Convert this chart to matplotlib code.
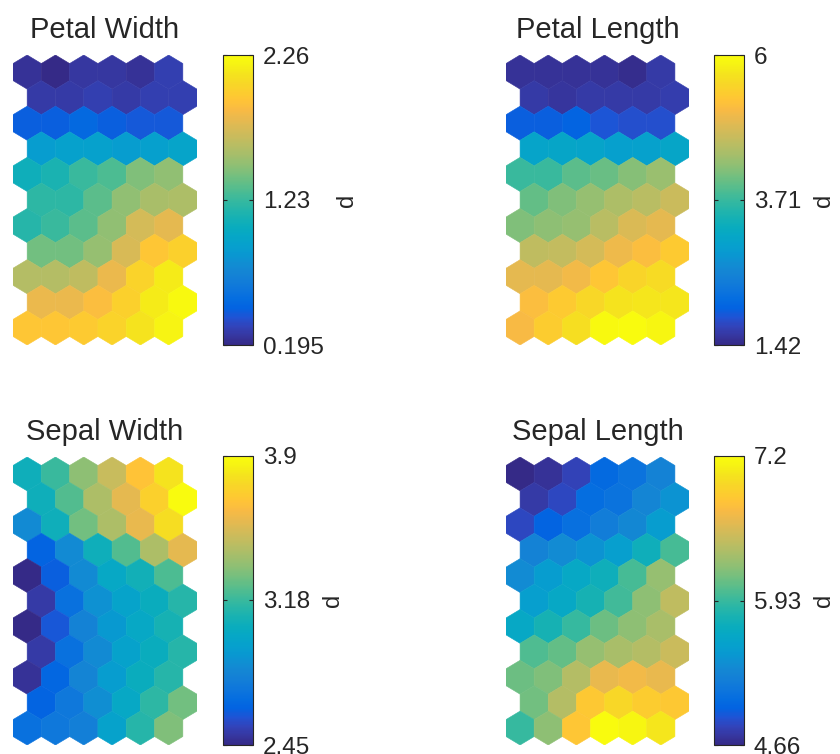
import numpy as np
import matplotlib
matplotlib.use('Agg')
import matplotlib.pyplot as plt
from matplotlib.collections import PolyCollection
from matplotlib.colors import LinearSegmentedColormap, Normalize
from matplotlib.cm import ScalarMappable

plt.rcParams['font.family'] = ['Liberation Sans', 'DejaVu Sans']

# --- SOM weight planes: 11 rows x 6 columns of hexagonal units ---
N_ROWS, N_COLS = 11, 6

titles = ['Petal Width', 'Petal Length', 'Sepal Width', 'Sepal Length']

petal_width = [
    [0.24, 0.20, 0.26, 0.26, 0.24, 0.30],
    [0.28, 0.28, 0.30, 0.28, 0.30, 0.30],
    [0.44, 0.44, 0.50, 0.44, 0.42, 0.42],
    [0.88, 0.92, 0.92, 0.88, 0.90, 0.94],
    [1.06, 1.12, 1.23, 1.29, 1.43, 1.48],
    [1.19, 1.19, 1.33, 1.48, 1.56, 1.58],
    [1.17, 1.23, 1.33, 1.48, 1.72, 1.79],
    [1.39, 1.39, 1.50, 1.74, 1.95, 2.01],
    [1.60, 1.60, 1.64, 1.81, 2.03, 2.16],
    [1.81, 1.81, 1.89, 2.01, 2.16, 2.24],
    [1.95, 1.95, 1.97, 2.03, 2.12, 2.20],
]

petal_length = [
    [1.51, 1.51, 1.51, 1.51, 1.47, 1.60],
    [1.60, 1.56, 1.60, 1.60, 1.60, 1.65],
    [1.97, 1.97, 2.02, 1.88, 1.83, 1.83],
    [3.07, 3.11, 3.07, 2.98, 3.02, 3.11],
    [3.71, 3.71, 3.94, 4.03, 4.21, 4.35],
    [3.98, 4.17, 4.31, 4.49, 4.58, 4.72],
    [4.17, 4.26, 4.31, 4.58, 4.86, 4.95],
    [4.63, 4.67, 4.81, 5.04, 5.18, 5.36],
    [4.95, 4.95, 5.08, 5.31, 5.50, 5.59],
    [5.18, 5.36, 5.54, 5.68, 5.73, 5.73],
    [5.13, 5.40, 5.63, 5.95, 6.00, 5.91],
]

sepal_width = [
    [3.06, 3.18, 3.35, 3.49, 3.67, 3.80],
    [3.06, 3.23, 3.42, 3.57, 3.73, 3.90],
    [2.84, 3.06, 3.29, 3.42, 3.58, 3.78],
    [2.64, 2.84, 3.06, 3.23, 3.42, 3.57],
    [2.45, 2.62, 2.84, 3.00, 3.07, 3.22],
    [2.51, 2.70, 2.87, 2.97, 3.04, 3.13],
    [2.45, 2.60, 2.80, 2.91, 3.00, 3.09],
    [2.51, 2.70, 2.84, 2.96, 3.04, 3.13],
    [2.48, 2.65, 2.81, 2.93, 3.04, 3.13],
    [2.64, 2.74, 2.86, 3.00, 3.15, 3.29],
    [2.70, 2.74, 2.78, 2.96, 3.13, 3.32],
]

sepal_length = [
    [4.66, 4.71, 4.81, 5.04, 5.12, 5.27],
    [4.76, 4.84, 5.07, 5.12, 5.30, 5.42],
    [4.84, 4.99, 5.09, 5.22, 5.32, 5.50],
    [5.27, 5.35, 5.42, 5.52, 5.73, 5.98],
    [5.35, 5.50, 5.63, 5.73, 5.98, 6.26],
    [5.52, 5.63, 5.78, 5.96, 6.23, 6.44],
    [5.63, 5.78, 5.93, 6.11, 6.23, 6.34],
    [6.01, 6.08, 6.26, 6.34, 6.39, 6.49],
    [6.11, 6.18, 6.39, 6.64, 6.69, 6.64],
    [6.13, 6.39, 6.84, 6.95, 6.87, 6.84],
    [5.93, 6.23, 6.82, 7.20, 7.15, 7.05],
]

# colorbar ticks (min, mid, max) as printed
tick_labels = [
    ['0.195', '1.23', '2.26'],
    ['1.42', '3.71', '6'],
    ['2.45', '3.18', '3.9'],
    ['4.66', '5.93', '7.2'],
]

planes = [petal_width, petal_length, sepal_width, sepal_length]

# parula-like colormap
parula_rgb = [
    (0.2081, 0.1663, 0.5292), (0.2123, 0.2138, 0.6270), (0.1959, 0.2645, 0.7279),
    (0.1253, 0.3242, 0.8303), (0.0117, 0.3875, 0.8820), (0.0165, 0.4266, 0.8786),
    (0.0498, 0.4586, 0.8641), (0.0723, 0.4887, 0.8467), (0.0793, 0.5200, 0.8312),
    (0.0641, 0.5570, 0.8240), (0.0343, 0.5966, 0.8199), (0.0239, 0.6287, 0.8038),
    (0.0228, 0.6535, 0.7768), (0.0384, 0.6743, 0.7436), (0.0843, 0.6928, 0.7062),
    (0.1453, 0.7098, 0.6646), (0.2178, 0.7250, 0.6193), (0.3022, 0.7376, 0.5712),
    (0.3953, 0.7459, 0.5244), (0.4871, 0.7491, 0.4840), (0.5709, 0.7485, 0.4494),
    (0.6473, 0.7456, 0.4188), (0.7184, 0.7411, 0.3905), (0.7858, 0.7356, 0.3633),
    (0.8507, 0.7299, 0.3360), (0.9139, 0.7258, 0.3063), (0.9739, 0.7314, 0.2666),
    (0.9990, 0.7653, 0.2164), (0.9880, 0.8066, 0.1794), (0.9697, 0.8481, 0.1475),
    (0.9589, 0.8949, 0.1132), (0.9661, 0.9514, 0.0755), (0.9763, 0.9831, 0.0538),
]
parula = LinearSegmentedColormap.from_list('parula', parula_rgb)

TEXT = '#262626'
W, H = 840, 754


def px_rect(left, top, right, bottom):
    return [left / W, 1 - bottom / H, (right - left) / W, (bottom - top) / H]


def hex_polys(n_rows, n_cols):
    r = 1 / np.sqrt(3)
    ang = np.deg2rad([90, 150, 210, 270, 330, 30])
    polys = []
    for i in range(n_rows):
        for j in range(n_cols):
            cx = j + 0.5 * (i % 2)
            cy = -i * 1.5 * r
            polys.append(np.column_stack([cx + r * np.cos(ang), cy + r * np.sin(ang)]))
    return polys, r


hex_boxes = [(13, 55, 197, 345), (506, 55, 689, 345),
             (13, 457, 197, 745), (506, 457, 689, 745)]
cbar_boxes = [(223, 55, 253, 345), (714, 55, 744, 345),
              (223, 456, 253, 745), (714, 456, 744, 745)]

fig = plt.figure(figsize=(8.4, 7.54), dpi=100)
polys, r = hex_polys(N_ROWS, N_COLS)

for k in range(4):
    vals = np.array(planes[k]).ravel()
    lo, hi = float(tick_labels[k][0]), float(tick_labels[k][2])
    norm = Normalize(vmin=lo, vmax=hi)

    ax = fig.add_axes(px_rect(*hex_boxes[k]))
    pc = PolyCollection(polys, array=vals, cmap=parula, norm=norm,
                        edgecolors='face', linewidths=0.4)
    ax.add_collection(pc)
    ax.set_xlim(-0.5, N_COLS)
    ax.set_ylim(-(N_ROWS - 1) * 1.5 * r - r, r)
    ax.axis('off')
    ax.set_title(titles[k], fontsize=21, color=TEXT, pad=12)

    cax = fig.add_axes(px_rect(*cbar_boxes[k]))
    cb = fig.colorbar(ScalarMappable(norm=norm, cmap=parula), cax=cax)
    ticks = [float(t) for t in tick_labels[k]]
    cb.set_ticks(ticks)
    cb.set_ticklabels(tick_labels[k])
    cax.tick_params(direction='in', length=3, width=0.8, left=True, right=True,
                    labelleft=False, labelright=True, labelsize=17.5,
                    labelcolor=TEXT, color=TEXT, pad=7)
    cb.outline.set_edgecolor(TEXT)
    cb.outline.set_linewidth(0.8)
    cb.set_label('d', rotation=90, fontsize=17, color=TEXT, labelpad=9)

fig.savefig('out.png', dpi=100)
